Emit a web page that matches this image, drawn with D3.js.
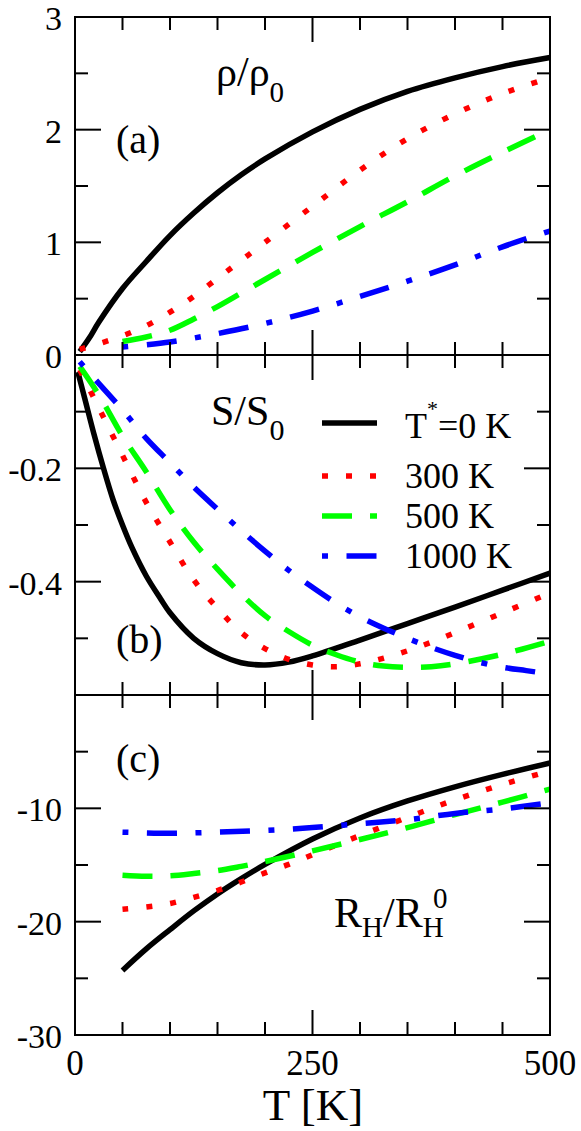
<!DOCTYPE html>
<html lang="en">
<head>
<meta charset="UTF-8">
<title>rho, S, R_H vs T</title>
<script src="https://d3js.org/d3.v7.min.js"></script>
<style>
  body { margin: 0; background: #fff; }
  svg { display: block; }
</style>
</head>
<body>
<svg id="chart" width="581" height="1131"></svg>
<script>
// temperatures are in K
const rho_0K = [[5,0.03],[15,0.15],[25,0.29],[50,0.59],[75,0.83],[100,1.06],[125,1.26],[150,1.44],[175,1.6],[200,1.74],[250,1.98],[300,2.18],[350,2.34],[400,2.46],[450,2.56],[500,2.64]];
const rho_300K = [[5,0.05],[25,0.1],[50,0.17],[75,0.26],[100,0.38],[125,0.52],[150,0.68],[175,0.84],[200,1.0],[250,1.32],[300,1.64],[350,1.92],[400,2.14],[450,2.32],[500,2.46]];
const rho_500K = [[50,0.12],[75,0.16],[100,0.22],[125,0.32],[150,0.43],[175,0.55],[200,0.67],[250,0.91],[300,1.14],[350,1.36],[400,1.59],[450,1.8],[500,2.0]];
const rho_1000K = [[50,0.07],[75,0.09],[100,0.115],[125,0.15],[150,0.19],[200,0.28],[250,0.39],[300,0.52],[350,0.655],[400,0.8],[450,0.96],[500,1.1]];

const S_0K = [[3,-0.03],[10,-0.075],[20,-0.14],[30,-0.2],[40,-0.255],[50,-0.3],[60,-0.34],[75,-0.39],[90,-0.43],[100,-0.455],[125,-0.5],[150,-0.527],[175,-0.543],[200,-0.547],[225,-0.542],[250,-0.531],[300,-0.503],[350,-0.474],[400,-0.445],[450,-0.415],[500,-0.385]];
const S_300K = [[5,-0.026],[25,-0.093],[50,-0.177],[75,-0.26],[100,-0.33],[125,-0.397],[150,-0.447],[175,-0.49],[200,-0.518],[225,-0.537],[250,-0.547],[275,-0.55],[300,-0.545],[325,-0.535],[350,-0.522],[375,-0.507],[400,-0.49],[450,-0.455],[500,-0.42]];
const S_500K = [[5,-0.02],[25,-0.07],[50,-0.143],[75,-0.206],[100,-0.273],[125,-0.33],[150,-0.378],[175,-0.422],[200,-0.46],[225,-0.488],[250,-0.512],[275,-0.529],[300,-0.542],[325,-0.549],[350,-0.551],[375,-0.55],[400,-0.545],[450,-0.528],[500,-0.505]];
const S_1000K = [[5,-0.012],[25,-0.05],[50,-0.097],[75,-0.147],[100,-0.19],[125,-0.233],[150,-0.272],[175,-0.31],[200,-0.346],[225,-0.38],[250,-0.41],[275,-0.438],[300,-0.462],[325,-0.482],[350,-0.5],[375,-0.516],[400,-0.53],[425,-0.542],[450,-0.551],[475,-0.557],[500,-0.563]];

const RH_0K = [[50,-24.3],[75,-22.4],[100,-20.7],[125,-19.05],[150,-17.55],[175,-16.2],[200,-14.95],[250,-12.7],[300,-10.85],[350,-9.35],[400,-8.1],[450,-7.0],[500,-6.0]];
const RH_300K = [[50,-18.9],[75,-18.7],[100,-18.4],[125,-17.85],[150,-17.25],[175,-16.5],[200,-15.7],[225,-14.95],[250,-14.1],[300,-12.4],[350,-10.8],[400,-9.25],[450,-7.9],[500,-6.7]];
const RH_500K = [[50,-15.9],[75,-16.0],[100,-15.95],[125,-15.75],[150,-15.5],[175,-15.12],[200,-14.7],[250,-13.75],[300,-12.75],[350,-11.7],[400,-10.55],[450,-9.45],[500,-8.3]];
const RH_1000K = [[50,-12.1],[100,-12.2],[150,-12.1],[200,-11.95],[250,-11.7],[300,-11.35],[350,-11.0],[400,-10.45],[450,-10.05],[500,-9.5]];

const legendNames = ["0 K", "300 K", "500 K", "1000 K"];
const xTickLabels = ["0", "250", "500"];
const rhoTickLabels = ["0", "1", "2", "3"];
const sTickLabels = ["-0.2", "-0.4"];
const rhTickLabels = ["-10", "-20", "-30"];

const FONT = '"Liberation Serif", "DejaVu Serif", "Times New Roman", serif';
const styles = [
  {color: "#000000", dash: null},
  {color: "#ff0000", dash: "6,18"},
  {color: "#00ff00", dash: "30,18"},
  {color: "#0000ff", dash: "6,18.5,30,18.5"}
];

const svg = d3.select("#chart");
const left = 75, right = 550;
const x = d3.scaleLinear().domain([0, 500]).range([left, right]);

function label(txt, xx, yy, size, anchor) {
  return svg.append("text")
    .attr("x", xx).attr("y", yy)
    .attr("text-anchor", anchor || "start")
    .style("font-family", FONT)
    .style("font-size", size + "px")
    .attr("fill", "#000")
    .text(txt);
}

const panels = [
  {top: 17, bottom: 355, domain: [0, 3], major: [0, 1, 2, 3], minor: [0.5, 1.5, 2.5],
   labels: rhoTickLabels, series: [rho_0K, rho_300K, rho_500K, rho_1000K]},
  {top: 355, bottom: 695, domain: [-0.6, 0], major: [-0.6, -0.4, -0.2, 0], minor: [-0.5, -0.3, -0.1],
   labels: sTickLabels, series: [S_0K, S_300K, S_500K, S_1000K]},
  {top: 695, bottom: 1035, domain: [-30, 0], major: [-30, -20, -10, 0], minor: [-25, -15, -5],
   labels: rhTickLabels, series: [RH_0K, RH_300K, RH_500K, RH_1000K]}
];

const xMajor = [0, 250, 500];
const xMinor = d3.range(50, 500, 50).filter(d => d !== 250);

panels.forEach(p => {
  const y = d3.scaleLinear().domain(p.domain).range([p.bottom, p.top]);

  // curves
  const line = d3.line().x(d => x(d[0])).y(d => y(d[1])).curve(d3.curveCatmullRom.alpha(0.5));
  p.series.forEach((s, k) => {
    svg.append("path")
      .datum(s)
      .attr("d", line)
      .attr("fill", "none")
      .attr("stroke", styles[k].color)
      .attr("stroke-width", 5.5)
      .attr("stroke-linejoin", "round")
      .attr("stroke-dasharray", styles[k].dash);
  });

  const tickG = svg.append("g").attr("stroke", "#000").attr("stroke-width", 2);
  // y ticks on both sides, pointing in
  p.major.forEach(v => {
    tickG.append("line").attr("x1", left).attr("x2", left + 26).attr("y1", y(v)).attr("y2", y(v));
    tickG.append("line").attr("x1", right).attr("x2", right - 26).attr("y1", y(v)).attr("y2", y(v));
  });
  p.minor.forEach(v => {
    tickG.append("line").attr("x1", left).attr("x2", left + 13).attr("y1", y(v)).attr("y2", y(v));
    tickG.append("line").attr("x1", right).attr("x2", right - 13).attr("y1", y(v)).attr("y2", y(v));
  });
  // x ticks top and bottom
  xMajor.forEach(v => {
    tickG.append("line").attr("x1", x(v)).attr("x2", x(v)).attr("y1", p.top).attr("y2", p.top + 25);
    tickG.append("line").attr("x1", x(v)).attr("x2", x(v)).attr("y1", p.bottom).attr("y2", p.bottom - 25);
  });
  xMinor.forEach(v => {
    tickG.append("line").attr("x1", x(v)).attr("x2", x(v)).attr("y1", p.top).attr("y2", p.top + 13);
    tickG.append("line").attr("x1", x(v)).attr("x2", x(v)).attr("y1", p.bottom).attr("y2", p.bottom - 13);
  });

  svg.append("rect")
    .attr("x", left).attr("y", p.top)
    .attr("width", right - left).attr("height", p.bottom - p.top)
    .attr("fill", "none").attr("stroke", "#000").attr("stroke-width", 2);

  p.labels.forEach(t => label(t, 62, y(+t) + 13, 34, "end"));
});

xTickLabels.forEach(t => label(t, x(+t), 1075, 35, "middle"));
label("T [K]", 313, 1120, 45, "middle");

// panel letters
label("(a)", 116, 153, 40);
label("(b)", 116, 653, 40);
label("(c)", 116, 772, 40);

// quantity labels
const rho = label("", 216, 86, 42);
rho.append("tspan").text("ρ/ρ");
rho.append("tspan").attr("dy", 16).style("font-size", "29px").text("0");

const sLab = label("", 211, 425, 42);
sLab.append("tspan").text("S/S");
sLab.append("tspan").attr("dy", 15).style("font-size", "30px").text("0");

const rh = label("", 334, 927, 42);
rh.append("tspan").text("R");
rh.append("tspan").attr("dy", 10).style("font-size", "29px").text("H");
rh.append("tspan").attr("dy", -10).text("/R");
rh.append("tspan").attr("dy", 10).style("font-size", "29px").text("H");
label("0", 433, 908, 29);

// legend
const legY = [423, 476, 516, 556];
const legTextY = [438, 488, 528, 568];
legendNames.forEach((name, k) => {
  svg.append("line")
    .attr("x1", 322).attr("x2", 377)
    .attr("y1", legY[k]).attr("y2", legY[k])
    .attr("stroke", styles[k].color)
    .attr("stroke-width", 5.5)
    .attr("stroke-dasharray", styles[k].dash);
  if (k === 0) {
    const t = label("", 405, legTextY[k], 36);
    t.append("tspan").text("T");
    t.append("tspan").attr("dy", -22).style("font-size", "22px").text("*");
    t.append("tspan").attr("dy", 22).text("=" + name);
  } else {
    label(name, 405, legTextY[k], 36);
  }
});
</script>
</body>
</html>
